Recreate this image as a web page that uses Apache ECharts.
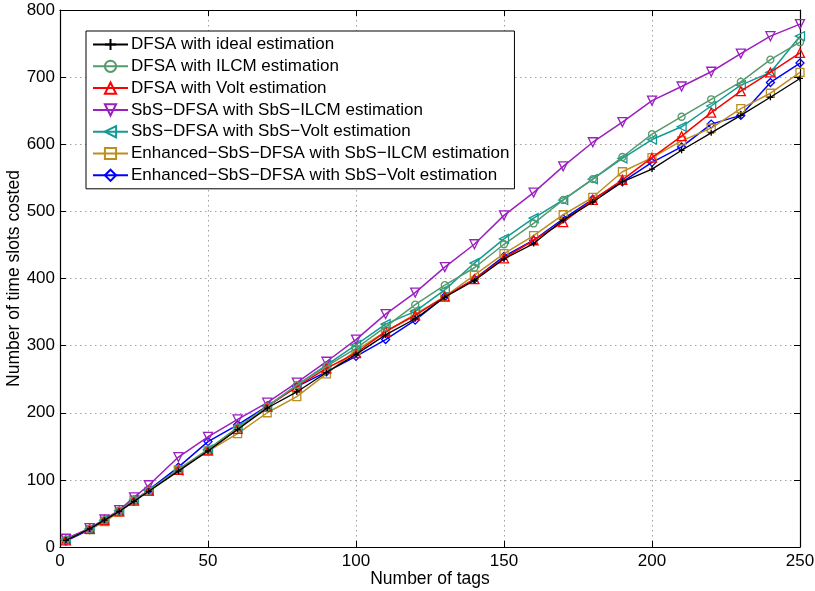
<!DOCTYPE html>
<html>
<head>
<meta charset="utf-8">
<script src="https://cdn.jsdelivr.net/npm/echarts@6/dist/echarts.min.js"></script>
<style>html,body{margin:0;padding:0;background:#fff;}#c{width:815px;height:591px;}</style>
</head>
<body>
<div id="c"></div>
<script>
var tags = [2,10,15,20,25,30,40,50,60,70,80,90,100,110,120,130,140,150,160,170,180,190,200,210,220,230,240,250];
var dfsaIdeal = [10,27,40,53,68,83,113,143,175,207,231,260,287,316,340,372,397,429,452,487,514,544,563,591,617,643,670,698];
var dfsaIlcm = [11,27,40,54,70,84,116,145,178,209,241,269,296,328,361,390,416,451,482,517,548,581,615,641,667,693,726,752];
var dfsaVolt = [10,27,40,53,69,84,115,144,176,209,239,266,289,321,345,373,399,430,457,484,517,547,580,612,647,679,707,736];
var sbsIlcm = [12,28,41,55,74,92,134,164,190,215,245,276,309,347,379,417,451,494,528,567,603,633,665,686,708,735,761,779];
var sbsVolt = [11,27,40,54,70,84,114,145,178,209,241,271,301,332,351,383,423,459,490,517,548,579,607,626,657,688,707,761];
var enhIlcm = [13,26,38,52,70,83,115,143,169,200,224,258,293,321,347,373,405,437,464,495,521,559,580,605,624,653,676,707];
var enhVolt = [9,26,39,53,68,85,119,157,182,210,239,261,284,309,338,373,399,433,457,489,518,544,573,596,630,643,692,721];

var names = [
  'DFSA with ideal estimation',
  'DFSA with ILCM estimation',
  'DFSA with Volt estimation',
  'SbS\u2212DFSA with SbS\u2212ILCM estimation',
  'SbS\u2212DFSA with SbS\u2212Volt estimation',
  'Enhanced\u2212SbS\u2212DFSA with SbS\u2212ILCM estimation',
  'Enhanced\u2212SbS\u2212DFSA with SbS\u2212Volt estimation'
];
var dataSets = [dfsaIdeal, dfsaIlcm, dfsaVolt, sbsIlcm, sbsVolt, enhIlcm, enhVolt];
var colors = ['#000000', '#559a6c', '#ff0000', '#9c1fc0', '#129b95', '#bb8e22', '#0000ff'];
var symbols = ['path://M0,5L10,5M5,0L5,10', 'circle', 'triangle', 'triangle', 'triangle', 'rect', 'diamond'];
var rotations = [0, 0, 0, 180, 90, 0, 0];
var sizes = [6, 7, 9, 9, 9, 8, 8];

var series = names.map(function(n, i){
  return {
    name: n,
    type: 'line',
    data: tags.map(function(x, j){ return [x, dataSets[i][j]]; }),
    symbol: symbols[i],
    symbolRotate: rotations[i],
    symbolSize: sizes[i],
    showAllSymbol: true,
    lineStyle: {color: colors[i], width: i === 0 ? 1.3 : 1.5},
    itemStyle: {color: 'rgba(255,255,255,0)', borderColor: colors[i], borderWidth: 1.3},
    emphasis: {disabled: true},
    z: 10 - i
  };
});

var font = 'Liberation Sans, Arial, Helvetica, sans-serif';
var gridLine = {show: true, lineStyle: {color: '#a0a0a0', type: [1.5, 3.5], width: 1}};

var chart = echarts.init(document.getElementById('c'), null, {renderer: 'canvas'});
chart.setOption({
  animation: false,
  backgroundColor: '#fff',
  textStyle: {fontFamily: font},
  grid: {left: 60, right: 15, top: 10, bottom: 44, containLabel: false, outerBoundsMode: 'none'},
  legend: {
    orient: 'vertical',
    left: 86, top: 31,
    padding: [5, 5, 5, 6],
    itemWidth: 35, itemHeight: 14, itemGap: 4.8,
    backgroundColor: '#fff',
    borderColor: '#000', borderWidth: 1,
    textStyle: {fontFamily: font, fontSize: 17, color: '#000', padding: [0,0,0,-2]},
    data: names
  },
  xAxis: [{
    type: 'value', min: 0, max: 250, interval: 50,
    name: 'Number of tags', nameLocation: 'middle', nameGap: 23, nameMoveOverlap: false,
    nameTextStyle: {fontFamily: font, fontSize: 17.5, color: '#000'},
    axisLine: {show: true, onZero: false, lineStyle: {color: '#000', width: 1.2}},
    axisTick: {show: true, inside: true, length: 6, lineStyle: {color: '#000'}},
    axisLabel: {fontFamily: font, fontSize: 17, color: '#000', margin: 6},
    splitLine: gridLine
  }, {
    type: 'value', min: 0, max: 250, interval: 50, position: 'top',
    axisLine: {show: true, onZero: false, lineStyle: {color: '#000', width: 1.2}},
    axisTick: {show: true, inside: true, length: 6, lineStyle: {color: '#000'}},
    axisLabel: {show: false}, splitLine: {show: false}
  }],
  yAxis: [{
    type: 'value', min: 0, max: 800, interval: 100,
    name: 'Number of time slots costed', nameLocation: 'middle', nameGap: 37, nameMoveOverlap: false,
    nameTextStyle: {fontFamily: font, fontSize: 17.5, color: '#000'},
    axisLine: {show: true, onZero: false, lineStyle: {color: '#000', width: 1.2}},
    axisTick: {show: true, inside: true, length: 6, lineStyle: {color: '#000'}},
    axisLabel: {fontFamily: font, fontSize: 17, color: '#000', margin: 5},
    splitLine: gridLine
  }, {
    type: 'value', min: 0, max: 800, interval: 100, position: 'right',
    axisLine: {show: true, onZero: false, lineStyle: {color: '#000', width: 1.2}},
    axisTick: {show: true, inside: true, length: 6, lineStyle: {color: '#000'}},
    axisLabel: {show: false}, splitLine: {show: false}
  }],
  series: series
});
</script>
</body>
</html>
